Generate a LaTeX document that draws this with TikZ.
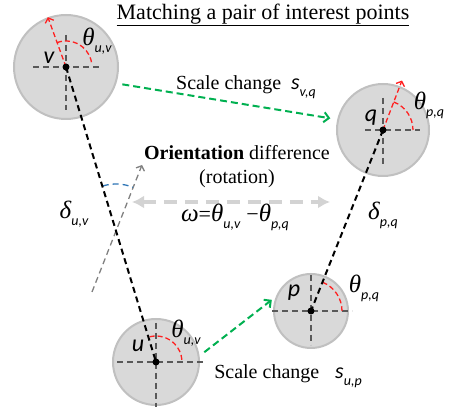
\documentclass[tikz,border=0pt]{standalone}
\usepackage{fontspec}
\setmainfont{Liberation Serif}
\setsansfont{Carlito}
\usetikzlibrary{arrows.meta,positioning}
\definecolor{disk}{HTML}{D9D9D9}
\definecolor{rim}{HTML}{C0C0C0}
\definecolor{guide}{HTML}{595959}
\definecolor{angred}{HTML}{FF2020}
\definecolor{scalegreen}{HTML}{00B050}
\definecolor{spinblue}{HTML}{2E75B6}
\definecolor{rotgray}{HTML}{808080}
\definecolor{ghost}{HTML}{D3D3D3}
\newcommand{\idx}[1]{\raisebox{-0.32em}{\fontsize{14}{14}\selectfont\sffamily\itshape #1}}
\newcommand{\greekit}[1]{{\fontsize{25}{26}\selectfont\itshape #1}}
\newcommand{\symsize}{\fontsize{22}{24}\selectfont}

\begin{document}
\begin{tikzpicture}[x=1pt, y=1pt,
  disk/.style={circle, fill=disk, draw=rim, line width=2pt, inner sep=0pt},
  hair/.style={guide, dash pattern=on 6pt off 4pt, line width=1.2pt},
  orient/.style={angred, dash pattern=on 5pt off 3pt, line width=1.3pt},
  link/.style={black, dash pattern=on 6pt off 4pt, line width=2pt},
  scalearrow/.style={scalegreen, dash pattern=on 7pt off 4pt, line width=2pt,
    -{Straight Barb[length=5pt, width=10pt]}},
  dot/.style={circle, fill=black, inner sep=0pt, minimum size=7pt},
  ptlabel/.style={font=\fontsize{24}{26}\selectfont\sffamily\itshape, inner sep=0pt},
  mlabel/.style={font=\symsize, inner sep=0pt}]
  \useasboundingbox (0,0) rectangle (451,418);

  \node[disk, minimum size=104pt] (cv) at (66,351) {};
  \node[disk, minimum size=92pt] (cq) at (383,288) {};
  \node[disk, minimum size=74pt] (cp) at (311,107) {};
  \node[disk, minimum size=86pt] (cu) at (156,56) {};
  \coordinate (v) at (cv.center);
  \coordinate (q) at (cq.center);
  \coordinate (p) at (cp.center);
  \coordinate (u) at (cu.center);

  \draw[hair] ([xshift=-33pt]v) -- ([xshift=34pt]v);
  \draw[hair] ([yshift=32pt]v) -- ([yshift=-43pt]v);
  \draw[hair] ([xshift=-18pt]q) -- ([xshift=37pt]q);
  \draw[hair] ([yshift=32pt]q) -- ([yshift=-35pt]q);
  \draw[hair] ([xshift=-39pt]p) -- ([xshift=41pt]p);
  \draw[hair] ([yshift=36pt]p) -- ([yshift=-34pt]p);
  \draw[hair] ([xshift=-39pt]u) -- ([xshift=49pt]u);
  \draw[hair] ([yshift=39pt]u) -- ([yshift=-45pt]u);

  \path (v) ++(110:53) coordinate (vdir);
  \path (q) ++(69:53) coordinate (qdir);
  \draw[orient, -{Straight Barb[length=4pt, width=9pt]}] (v) -- (vdir);
  \draw[orient, -{Straight Barb[length=4pt, width=9pt]}] (q) -- (qdir);
  \draw[orient] ([shift={(110:26)}]v) arc[start angle=110, end angle=5, radius=26];
  \draw[orient] ([shift={(69:30)}]q) arc[start angle=69, end angle=0, radius=30];
  \draw[orient] ([shift={(68:31)}]p) arc[start angle=68, end angle=0, radius=31];
  \draw[orient] ([shift={(104:26)}]u) arc[start angle=104, end angle=5, radius=26];

  \coordinate (rb) at (92,126);
  \coordinate (rt) at (142,253);
  \coordinate (pivot) at (116,189);
  \coordinate (rl) at (132,216);
  \coordinate (rr) at (330,216);
  \draw[ghost, line width=4.5pt, dash pattern=on 13pt off 8pt,
    {Latex[length=12pt, width=13pt]}-{Latex[length=12pt, width=13pt]}] (rl) -- (rr);
  \draw[rotgray, dash pattern=on 6pt off 4pt, line width=1.3pt,
    -{Straight Barb[length=4pt, width=9pt]}] (rb) -- (rt);
  \draw[spinblue, dash pattern=on 6pt off 4pt, line width=1.3pt]
    ([shift={(107:45)}]pivot) arc[start angle=107, end angle=68, radius=45];

  \draw[link] (v) -- (u);
  \draw[link] (q) -- (p);
  \node[dot] (vdot) at (v) {};
  \node[dot] (qdot) at (q) {};
  \node[dot] (pdot) at (p) {};
  \node[dot] (udot) at (u) {};

  \draw[scalearrow, shorten <=6pt, shorten >=7pt] (cv.-18) -- (cq.167);
  \draw[scalearrow, shorten <=6pt, shorten >=5pt] (cu.8) -- (cp.158);

  \node[ptlabel] (vlab) at (49,360) {v};
  \node[ptlabel] (qlab) at (371,300) {q};
  \node[ptlabel] (plab) at (294,125) {p};
  \node[ptlabel] (ulab) at (138,72) {u};

  \node[mlabel] (tv) at (97,377) {\greekit{θ}\idx{u,v}};
  \node[mlabel] (tq) at (429,313) {\greekit{θ}\idx{p,q}};
  \node[mlabel] (tp) at (364,130) {\greekit{θ}\idx{p,q}};
  \node[mlabel] (tu) at (186,85) {\greekit{θ}\idx{u,v}};
  \node[mlabel] (duv) at (74,204) {\greekit{δ}\idx{u,v}};
  \node[mlabel] (dpq) at (383,203) {\greekit{δ}\idx{p,q}};
  \node[mlabel] (omega) at (235,201)
    {\greekit{ω}=\greekit{θ}\idx{u,v}\hspace{6pt}−\greekit{θ}\idx{p,q}};

  \node[font=\fontsize{22}{24}\selectfont, inner sep=0pt] (title) at (263,403)
    {\underline{Matching a pair of interest points}};
  \node[font=\fontsize{20}{24}\selectfont, align=center, inner sep=0pt] (rot) at (237,251)
    {\textbf{Orientation} difference\\(rotation)};
  \node[font=\fontsize{20}{22}\selectfont, inner sep=0pt] (svq) at (246,331)
    {Scale change\hspace{10pt}{\symsize\sffamily\itshape s}\idx{v,q}};
  \node[font=\fontsize{20}{22}\selectfont, inner sep=0pt] (sup) at (288,42)
    {Scale change\hspace{16pt}{\symsize\sffamily\itshape s}\idx{u,p}};
\end{tikzpicture}
\end{document}
